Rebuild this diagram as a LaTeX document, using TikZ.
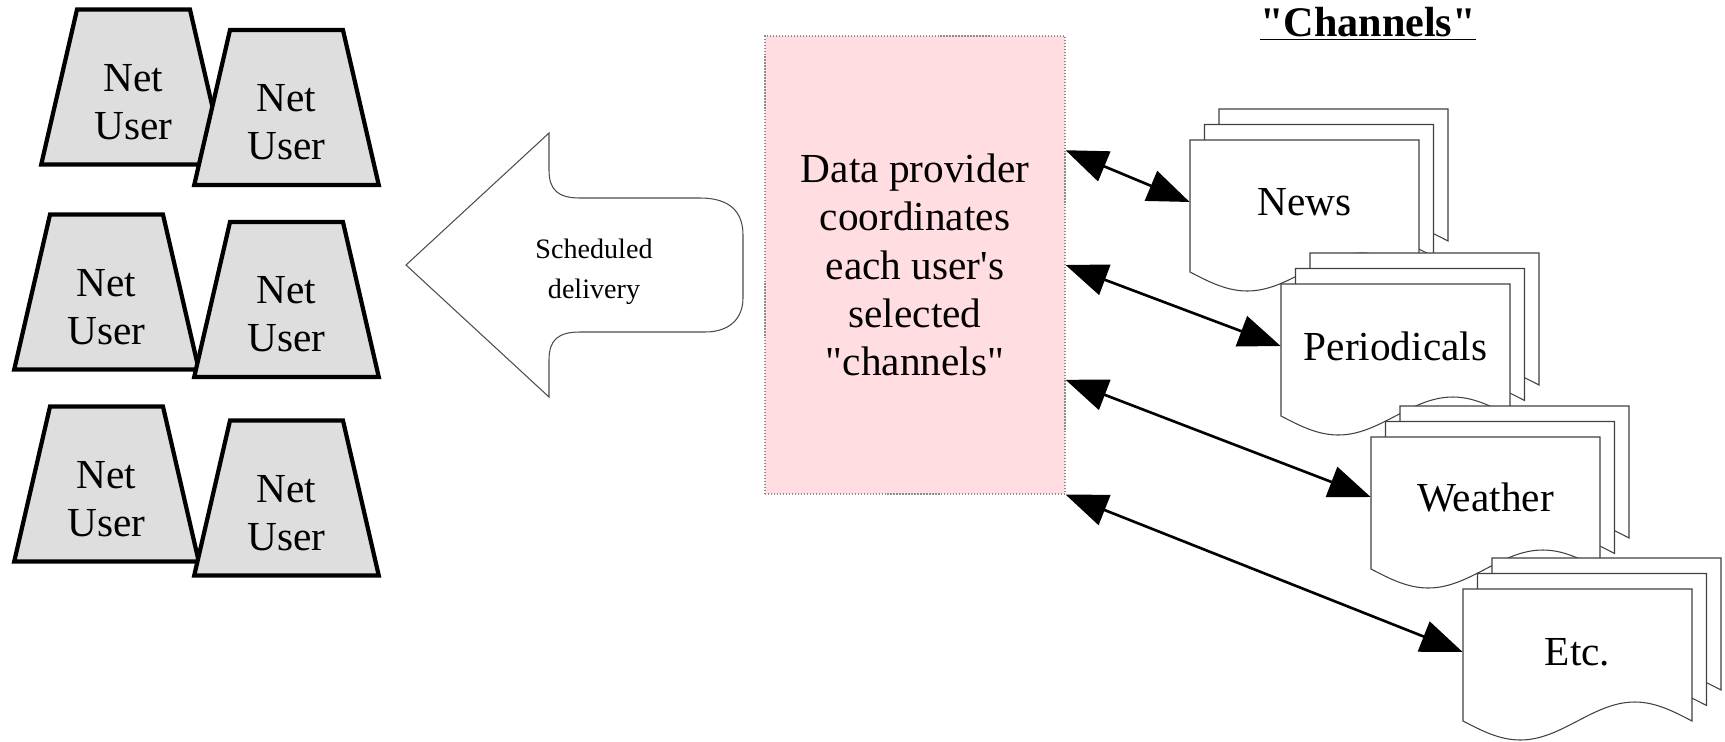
\documentclass[tikz,border=0pt]{standalone}
\usepackage{fontspec}
\setmainfont{Liberation Serif}[Ligatures=TeXOff]
\usetikzlibrary{shapes.geometric,arrows.meta,calc}

\definecolor{userfill}{RGB}{222,222,222}
\definecolor{providerfill}{RGB}{255,221,224}

\begin{document}
\begin{tikzpicture}[
  x=0.02cm, y=-0.02cm,
  every node/.style={font=\fontsize{23.5}{27.5}\selectfont},
  netuser/.style={trapezium, trapezium left angle=77, trapezium right angle=77,
    inner xsep=1.13cm, inner ysep=1.55cm,
    draw, line width=2.4pt, fill=userfill},
  usertext/.style={align=center, inner sep=0pt},
  provider/.style={draw=black!45, densely dotted, line width=0.7pt, fill=providerfill,
    minimum width=6cm, minimum height=9.16cm, align=center, inner sep=0pt},
  delivery/.style={draw=black!70, line width=0.6pt, fill=white},
  deliverytext/.style={align=center, inner sep=0pt, font=\fontsize{16}{23}\selectfont},
  header/.style={inner sep=0pt, font=\fontsize{24}{28}\selectfont\bfseries},
  chtext/.style={minimum width=4.58cm, inner sep=0pt},
  pageline/.style={draw=black!75, line width=0.6pt, fill=white},
  link/.style={{Triangle[length=0.84cm,width=0.64cm]}-{Triangle[length=0.84cm,width=0.64cm]},
    line width=1.5pt},
  docpage/.pic={
    \filldraw[pageline] (0,0) -- (229,0) -- (229,132) sin (171.75,113) cos (114.5,132)
      sin (57.25,151) cos (0,132) -- cycle;
  },
  docstack/.pic={
    \pic at (29,-31) {docpage};
    \pic at (14.5,-15.5) {docpage};
    \pic at (0,0) {docpage};
  }
]
\useasboundingbox (0,0) rectangle (1725,741);

% net users
\node[netuser] (u1) at (133.5,87) {};
\node[usertext] (u1t) at ([yshift=-0.3cm]u1.center) {Net\\User};
\node[netuser] (u2) at (286.5,107.5) {};
\node[usertext] (u2t) at ([yshift=-0.3cm]u2.center) {Net\\User};
\node[netuser] (u3) at (106.5,292) {};
\node[usertext] (u3t) at ([yshift=-0.3cm]u3.center) {Net\\User};
\node[netuser] (u4) at (286.5,299.5) {};
\node[usertext] (u4t) at ([yshift=-0.3cm]u4.center) {Net\\User};
\node[netuser] (u5) at (106.5,484) {};
\node[usertext] (u5t) at ([yshift=-0.3cm]u5.center) {Net\\User};
\node[netuser] (u6) at (286.5,498) {};
\node[usertext] (u6t) at ([yshift=-0.3cm]u6.center) {Net\\User};

% big delivery arrow
\draw[delivery] (406,265) -- (549,133) -- (549,170)
  .. controls (549,190) and (558,198) .. (580,198) -- (700,198)
  .. controls (730,198) and (743,212) .. (743,235) -- (743,298)
  .. controls (743,318) and (730,332) .. (705,332) -- (580,332)
  .. controls (558,332) and (549,340) .. (549,360) -- (549,397) -- cycle;
\node[deliverytext] (sched) at (594,272) {Scheduled\\delivery};

% data provider
\node[provider] (dp) at (915,265) {Data provider\\coordinates\\each user's\\selected\\"channels"};

% channels
\node[header] (chan) at (1368,24) {\underline{"Channels"}};
\pic at (1190,140) {docstack};
\node[chtext] (news) at (1304.5,202) {News};
\pic at (1281,284) {docstack};
\node[chtext] (periodicals) at (1395.5,346) {Periodicals};
\pic at (1371,437) {docstack};
\node[chtext] (weather) at (1485.5,497) {Weather};
\pic at (1463,589) {docstack};
\node[chtext] (etc) at (1577.5,652) {Etc.};

\draw[link] ($(dp.north east)!0.25!(dp.south east)$) -- (news.west);
\draw[link] ($(dp.north east)!0.5!(dp.south east)$) -- (periodicals.west);
\draw[link] ($(dp.north east)!0.75!(dp.south east)$) -- (weather.west);
\draw[link] (dp.south east) -- (etc.west);
\end{tikzpicture}
\end{document}
